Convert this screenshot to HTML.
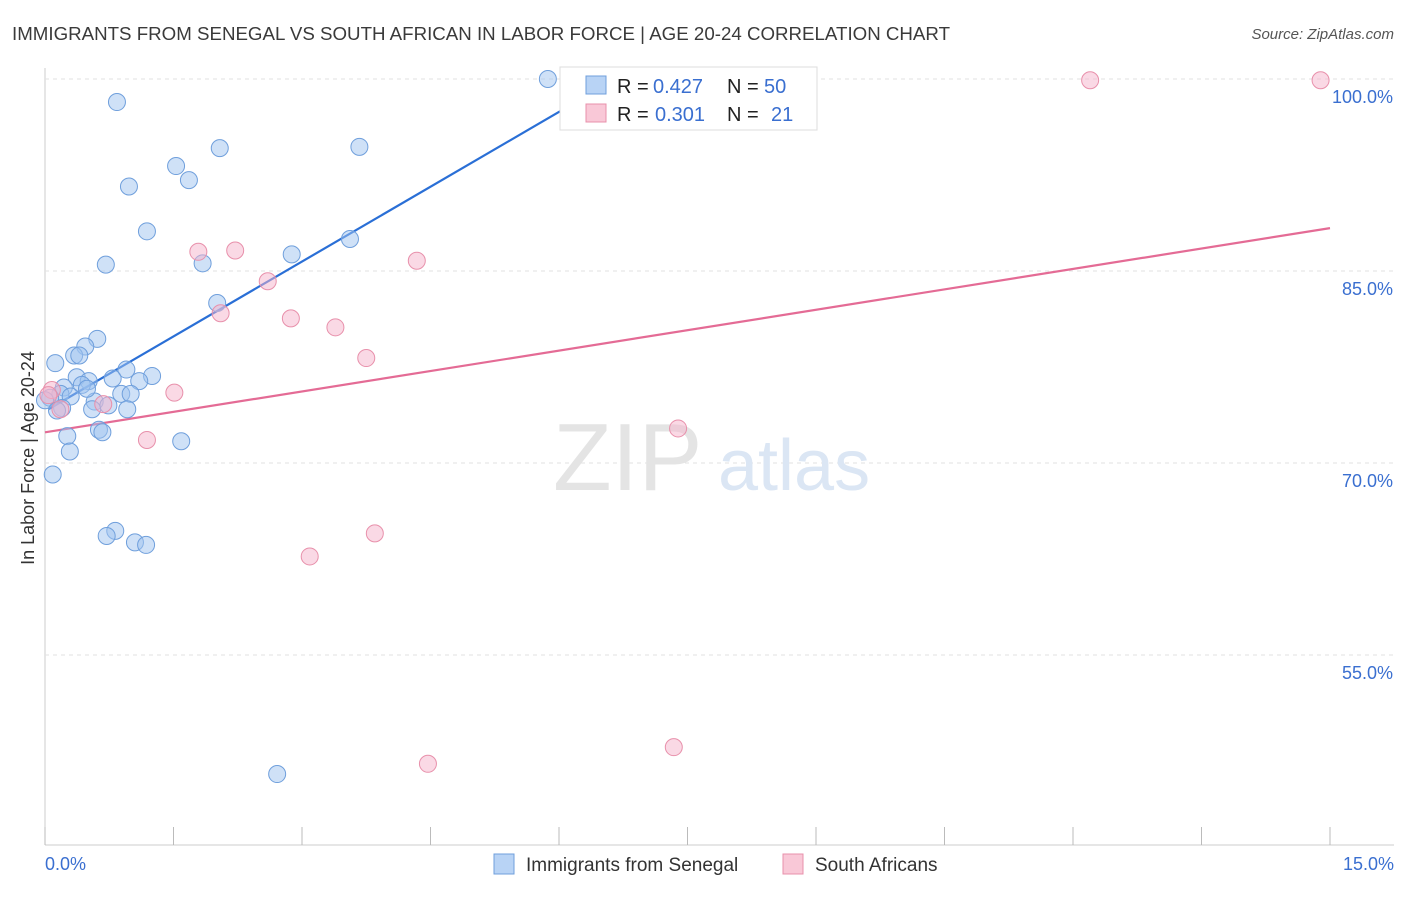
<!DOCTYPE html>
<html><head><meta charset="utf-8"><style>
body{margin:0;background:#fff;font-family:"Liberation Sans",sans-serif;}
svg text{font-family:"Liberation Sans",sans-serif;}
</style></head><body>
<svg id="chart" width="1406" height="892" xmlns="http://www.w3.org/2000/svg">
<text x="12" y="40" font-size="18" fill="#3a3a3a" textLength="938" lengthAdjust="spacingAndGlyphs">IMMIGRANTS FROM SENEGAL VS SOUTH AFRICAN IN LABOR FORCE | AGE 20-24 CORRELATION CHART</text>
<text x="1394" y="39" font-size="15" fill="#555" font-style="italic" text-anchor="end">Source: ZipAtlas.com</text>
<text transform="translate(34,458) rotate(-90)" font-size="18" fill="#333" text-anchor="middle">In Labor Force | Age 20-24</text>
<g id="grid"></g>
<text x="553" y="490" font-size="96" fill="#e4e4e4" font-family="Liberation Serif">ZIP</text>
<text x="718" y="490" font-size="72" fill="#dbe6f4">atlas</text>
<g id="lines"></g>
<g id="points"></g>
<g>
<rect x="560" y="67" width="257" height="63" fill="#fff" stroke="#ddd"/>
<rect x="586" y="76" width="20" height="18" fill="#b8d3f5" stroke="#6f9fdc"/>
<text x="617" y="93" font-size="20" fill="#222">R =</text>
<text x="653" y="93" font-size="20" fill="#3a6fd0">0.427</text>
<text x="727" y="93" font-size="20" fill="#222">N =</text>
<text x="764" y="93" font-size="20" fill="#3a6fd0">50</text>
<rect x="586" y="104" width="20" height="18" fill="#f9c8d7" stroke="#e890ab"/>
<text x="617" y="121" font-size="20" fill="#222">R =</text>
<text x="655" y="121" font-size="20" fill="#3a6fd0">0.301</text>
<text x="727" y="121" font-size="20" fill="#222">N =</text>
<text x="771" y="121" font-size="20" fill="#3a6fd0">21</text>
</g>
<g>
<rect x="494" y="854" width="20" height="20" fill="#b8d3f5" stroke="#6f9fdc"/>
<text x="526" y="871" font-size="19" fill="#333">Immigrants from Senegal</text>
<rect x="783" y="854" width="20" height="20" fill="#f9c8d7" stroke="#e890ab"/>
<text x="815" y="871" font-size="19" fill="#333">South Africans</text>
</g>
<text x="45" y="870" font-size="18" fill="#3a6fd0">0.0%</text>
<text x="1394" y="870" font-size="18" fill="#3a6fd0" text-anchor="end">15.0%</text>
</svg>
<script>
const blueX=[5.87,0.84,2.04,3.67,1.53,1.68,0.98,1.19,3.56,2.88,0.71,1.84,2.01,0.61,0.47,0.34,0.40,0.12,0.95,1.25,0.37,0.79,1.10,0.51,0.43,0.22,0.18,0.30,0.89,1.00,0.06,0.0,0.58,0.74,0.55,0.96,0.20,0.14,0.26,1.59,0.63,0.67,0.29,0.09,0.82,0.72,1.05,1.18,2.71,0.49];
const blueY=[100,98.2,94.6,94.7,93.2,92.1,91.6,88.1,87.5,86.3,85.5,85.6,82.5,79.7,79.1,78.4,78.4,77.8,77.3,76.8,76.7,76.6,76.4,76.4,76.1,75.9,75.4,75.2,75.4,75.4,75.1,74.9,74.8,74.5,74.2,74.2,74.3,74.1,72.1,71.7,72.6,72.4,70.9,69.1,64.7,64.3,63.8,63.6,45.7,75.8];
const pinkX=[12.20,14.89,1.79,2.22,4.34,2.60,2.05,2.87,3.39,3.75,1.51,0.08,0.68,1.19,7.39,3.85,3.09,4.47,7.34,0.04,0.18];
const pinkY=[99.9,99.9,86.5,86.6,85.8,84.2,81.7,81.3,80.6,78.2,75.5,75.7,74.6,71.8,72.7,64.5,62.7,46.5,47.8,75.3,74.2];
const yTicks=[100,85,70,55];
const yTickLabels=["100.0%","85.0%","70.0%","55.0%"];
const xTicks=[0,1.5,3,4.5,6,7.5,9,10.5,12,13.5,15];
const blueTrend=[[0.04,74.2],[6.3,98.6]];
const pinkTrend=[[0,72.4],[15,88.35]];
const NS="http://www.w3.org/2000/svg";
const sx=v=>45+v*(1285/15);
const sy=v=>79+(100-v)*12.8;
function mk(tag,attrs,parent){const e=document.createElementNS(NS,tag);for(const k in attrs)e.setAttribute(k,attrs[k]);parent.appendChild(e);return e;}
const grid=document.getElementById('grid');
let ax=mk('line',{x1:45,y1:68,x2:45,y2:845,stroke:'#ccc'},grid);


let bx=mk('line',{x1:45,y1:845,x2:1394,y2:845,stroke:'#ccc'},grid);


yTicks.forEach((t,i)=>{
 const g=mk('line',{x1:45,y1:sy(t),x2:1394,y2:sy(t),stroke:'#e2e2e2','stroke-dasharray':'4,4'},grid);
 
 
 const tx=mk('text',{x:1393,y:sy(t)+24,'font-size':18,fill:'#3a6fd0','text-anchor':'end'},grid);
 tx.textContent=yTickLabels[i];
 
 
});
xTicks.forEach(t=>{
 const l=mk('line',{x1:sx(t),y1:827,x2:sx(t),y2:845,stroke:'#bbb'},grid);
 
 
});
const lines=document.getElementById('lines');
let bl=mk('line',{x1:sx(blueTrend[0][0]),y1:sy(blueTrend[0][1]),x2:sx(blueTrend[1][0]),y2:sy(blueTrend[1][1]),stroke:'#2a6fd6','stroke-width':2.2},lines);


let pl=mk('line',{x1:sx(pinkTrend[0][0]),y1:sy(pinkTrend[0][1]),x2:sx(pinkTrend[1][0]),y2:sy(pinkTrend[1][1]),stroke:'#e46b95','stroke-width':2.2},lines);


const pts=document.getElementById('points');
blueX.forEach((x,i)=>{
 const c=mk('circle',{cx:sx(x),cy:sy(blueY[i]),r:8.5,fill:'rgba(160,195,240,0.5)',stroke:'#6f9fdc','stroke-width':1},pts);
 
 
});
pinkX.forEach((x,i)=>{
 const c=mk('circle',{cx:sx(x),cy:sy(pinkY[i]),r:8.5,fill:'rgba(246,180,203,0.5)',stroke:'#e890ab','stroke-width':1},pts);
 
 
});
</script>
</body></html>
